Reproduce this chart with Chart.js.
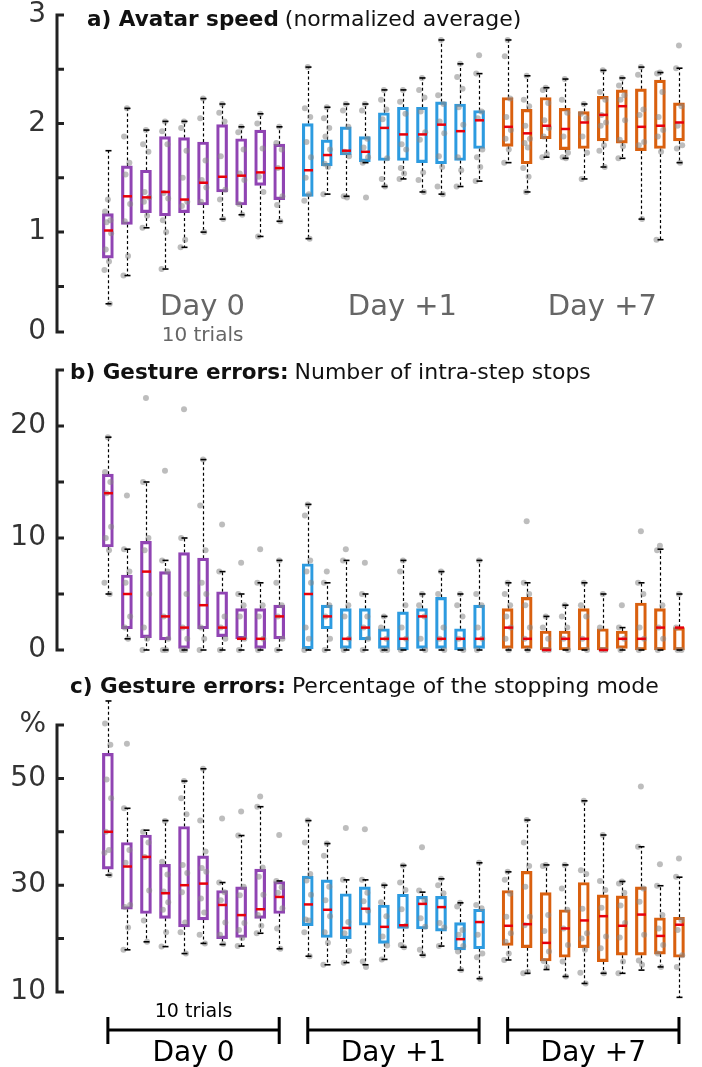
<!DOCTYPE html>
<html>
<head>
<meta charset="utf-8">
<script src="https://cdn.jsdelivr.net/npm/chart.js@4"></script>
<style>
  body { margin: 0; background: #fff; }
  #wrap { position: relative; width: 702px; height: 1067px; overflow: hidden; }
  canvas { position: absolute; left: 0; }
</style>
</head>
<body>
<div id="wrap">
  <canvas id="chartA" width="702" height="350" style="top:0px"></canvas>
  <canvas id="chartB" width="702" height="315" style="top:350px"></canvas>
  <canvas id="chartC" width="702" height="402" style="top:665px"></canvas>
</div>
<script>
// groups on the x axis
var days = ['Day 0', 'Day +1', 'Day +7'];
var trialsLabel = '10 trials';
var dayColors = ['#9044b3', '#2d9be0', '#d9600f'];

// a) Avatar speed (normalized average) - 10 trials per day
var speedMax = [1.75, 2.14, 1.94, 2.02, 2.02, 2.23, 2.18, 1.97, 2.09, 1.97,
                2.52, 2.15, 2.18, 2.18, 2.31, 2.31, 2.42, 2.77, 2.55, 2.46,
                2.77, 2.44, 2.33, 2.41, 2.18, 2.49, 2.42, 2.52, 2.47, 2.51];
var speedQ3  = [1.17, 1.61, 1.57, 1.88, 1.87, 1.83, 1.99, 1.86, 1.94, 1.81,
                2.00, 1.85, 1.97, 1.88, 2.10, 2.15, 2.15, 2.20, 2.18, 2.12,
                2.24, 2.13, 2.24, 2.14, 2.11, 2.25, 2.31, 2.32, 2.40, 2.19];
var speedMed = [1.015, 1.33, 1.32, 1.37, 1.30, 1.455, 1.51, 1.52, 1.55, 1.59,
                1.57, 1.71, 1.75, 1.74, 1.96, 1.90, 1.90, 1.99, 1.93, 2.03,
                1.97, 1.91, 1.98, 1.95, 2.01, 2.08, 2.16, 1.97, 1.98, 2.01];
var speedQ1  = [0.76, 1.07, 1.18, 1.15, 1.18, 1.25, 1.37, 1.25, 1.43, 1.30,
                1.33, 1.61, 1.71, 1.65, 1.66, 1.66, 1.64, 1.63, 1.66, 1.77,
                1.79, 1.63, 1.86, 1.76, 1.77, 1.84, 1.82, 1.75, 1.77, 1.84];
var speedMin = [0.34, 0.60, 1.04, 0.66, 0.86, 1.00, 1.12, 1.16, 0.96, 1.10,
                0.94, 1.35, 1.33, 1.64, 1.42, 1.49, 1.37, 1.35, 1.42, 1.47,
                1.64, 1.37, 1.69, 1.68, 1.49, 1.60, 1.68, 1.12, 0.93, 1.64];
var speedPts = [
  [1.30, 1.19, 1.11, 1.09, 0.99, 0.84, 0.73, 0.65, 0.34],
  [2.14, 1.88, 1.64, 1.53, 1.26, 1.10, 0.78, 0.60],
  [1.94, 1.81, 1.74, 1.37, 1.32, 1.28, 1.15, 1.04],
  [2.02, 1.93, 1.81, 1.36, 1.31, 1.11, 1.00, 0.66],
  [2.02, 1.96, 1.75, 1.50, 1.28, 1.24, 0.93, 0.86],
  [2.23, 2.05, 1.66, 1.48, 1.41, 1.28, 1.00],
  [2.18, 2.10, 2.02, 1.70, 1.39, 1.30, 1.12],
  [1.97, 1.92, 1.76, 1.54, 1.48, 1.26, 1.16],
  [2.09, 2.00, 1.77, 1.51, 1.37, 0.96],
  [1.97, 1.82, 1.76, 1.59, 1.33, 1.25, 1.10],
  [2.52, 2.14, 2.06, 1.83, 1.69, 1.50, 1.35, 1.29, 0.94],
  [2.15, 2.05, 1.96, 1.88, 1.76, 1.63, 1.60, 1.35],
  [2.18, 2.12, 1.97, 1.74, 1.70, 1.33, 1.32],
  [2.18, 2.12, 1.86, 1.78, 1.69, 1.64, 1.32],
  [2.31, 2.22, 2.13, 2.04, 1.68, 1.49, 1.42],
  [2.31, 2.20, 2.09, 1.81, 1.76, 1.59, 1.54, 1.49],
  [2.42, 2.31, 2.24, 2.11, 1.92, 1.85, 1.55, 1.48, 1.37],
  [2.77, 2.26, 2.18, 2.02, 1.91, 1.70, 1.60, 1.42, 1.35],
  [2.55, 2.43, 2.32, 2.15, 1.99, 1.69, 1.57, 1.42],
  [2.63, 2.46, 2.11, 2.05, 1.76, 1.69, 1.60, 1.47],
  [2.77, 2.62, 2.23, 2.06, 1.94, 1.86, 1.76, 1.64],
  [2.44, 2.22, 2.16, 1.98, 1.86, 1.82, 1.78, 1.59, 1.51, 1.37],
  [2.33, 2.31, 2.19, 2.03, 1.96, 1.88, 1.72, 1.69],
  [2.41, 2.22, 2.10, 1.88, 1.73, 1.69, 1.68],
  [2.18, 2.09, 2.05, 1.88, 1.73, 1.49],
  [2.49, 2.29, 2.22, 2.08, 2.01, 1.98, 1.80, 1.75, 1.60],
  [2.42, 2.35, 2.26, 2.22, 2.03, 1.85, 1.79, 1.68],
  [2.52, 2.45, 2.13, 2.08, 1.83, 1.80, 1.12],
  [2.47, 2.46, 2.29, 2.06, 1.94, 1.88, 1.74, 0.93],
  [2.72, 2.51, 2.16, 1.98, 1.80, 1.77, 1.64]
];
var speedTicks = [0.08, 0.5, 1, 1.5, 2, 2.5, 3];
var speedTickLabels = ['0', '', '1', '', '2', '', '3'];

// b) Gesture errors: number of intra-step stops
var stopsMax = [19, 9, 15, 8, 10, 17, 7, 5, 6, 8,
                13, 6, 8, 5, 3, 8, 5, 7, 5, 8,
                6, 6, 3, 4, 6, 5, 2, 6, 9, 5];
var stopsQ3  = [15.7, 6.7, 9.7, 7.0, 8.7, 8.2, 5.2, 3.7, 3.7, 4.0,
                7.7, 4.0, 3.7, 3.7, 1.9, 3.4, 3.7, 4.7, 1.9, 4.0,
                3.7, 4.7, 1.7, 1.7, 3.7, 1.9, 1.7, 4.2, 3.7, 2.0];
var stopsMed = [14, 5, 7, 3, 2, 4, 2, 1, 1, 3,
                5, 3, 1, 2, 1, 1, 3, 1, 1, 1,
                2, 1, 0, 1, 1, 0, 1, 1, 2, 2];
var stopsQ1  = [9.2, 1.9, 1.1, 0.9, 0.15, 1.9, 1.2, 1.0, 0.15, 1.0,
                0.1, 1.9, 0.15, 0.9, 0.15, 0, 0.15, 0.15, 0, 0.15,
                0.15, 0.15, 0, 0, 0, 0, 0.15, 0, 0, 0];
var stopsMin = [5, 1, 0, 0, 0, 0, 0, 0, 0, 0,
                0, 0, 0, 0, 0, 0, 0, 0, 0, 0,
                0, 0, 0, 0, 0, 0, 0, 0, 0, 0];
var stopsPts = [
  [19, 15.9, 15, 14, 11, 10, 8.9, 6, 5],
  [13.8, 9, 7, 6, 3, 2, 1],
  [22.5, 15, 10, 8.9, 5, 2, 1, 0],
  [16, 8, 7, 3, 1, 0, 0],
  [21.5, 10, 5, 2, 1, 0, 0],
  [17, 12.9, 8.9, 6, 5, 2, 1, 0],
  [11.2, 7, 3, 2, 1, 0],
  [7.8, 5, 4, 3, 1, 0],
  [9, 6, 4, 3, 1, 0],
  [8, 6, 4, 3, 1, 0],
  [13, 12, 8, 7, 6, 2, 1, 0],
  [7, 6, 4, 3, 1, 0],
  [9, 8, 4, 3, 1, 0],
  [7.8, 5, 3, 2, 1, 0],
  [3, 2, 1, 0, 0],
  [8, 7, 4, 2, 1, 0],
  [5, 4, 3, 1, 0],
  [7, 5, 2, 1, 0],
  [5, 4, 3, 1, 0],
  [8, 5, 4, 2, 1, 0],
  [6, 5, 4, 3, 2, 1, 0],
  [11.5, 6, 5, 4, 2, 1, 0],
  [3, 2, 1, 0, 0],
  [4, 3, 2, 1, 0],
  [6, 4, 3, 1, 0],
  [5, 2, 0, 0],
  [4, 2, 1, 0],
  [10.6, 6, 5, 2, 1, 0],
  [9.3, 8.9, 4, 2, 1, 0],
  [5, 2, 0, 0]
];
var stopsTicks = [0, 5, 10, 15, 20, 25];
var stopsTickLabels = ['0', '', '10', '', '20', ''];

// c) Gesture errors: percentage of the stopping mode
var modeMax = [64.5, 44.4, 40.3, 42.1, 49.5, 51.8, 30.5, 39.3, 44.7, 30.8,
               42.1, 37.8, 31.0, 31.0, 30.0, 33.7, 28.7, 31.2, 26.7, 34.2,
               32.5, 42.2, 33.8, 33.8, 45.8, 39.4, 30.7, 37.2, 29.9, 31.5];
var modeQ3  = [54.7, 38.0, 39.4, 33.9, 41.0, 35.5, 29.0, 29.7, 33.0, 30.7,
               31.7, 31.0, 28.4, 29.7, 26.3, 28.3, 27.9, 27.9, 23.0, 25.5,
               29.0, 32.6, 28.6, 25.4, 30.5, 28.2, 28.0, 29.7, 23.9, 24.0];
var modeMed = [40.0, 33.5, 35.3, 28.5, 30.0, 30.3, 26.3, 24.4, 25.5, 27.8,
               26.4, 25.4, 22.0, 25.6, 22.2, 22.5, 26.5, 25.9, 19.9, 23.1,
               22.4, 22.7, 19.2, 21.9, 23.4, 24.2, 22.4, 24.5, 20.5, 22.6];
var modeQ1  = [33.0, 25.5, 24.7, 23.8, 22.2, 23.5, 20.0, 20.2, 23.8, 24.7,
               22.4, 20.2, 20.0, 22.5, 19.1, 21.9, 21.8, 21.4, 17.9, 18.1,
               18.7, 18.3, 15.8, 16.5, 18.3, 15.7, 16.9, 16.9, 17.1, 16.5];
var modeMin = [31.9, 17.9, 19.4, 18.5, 17.2, 19.1, 18.9, 18.6, 21.0, 18.1,
               16.7, 15.1, 15.5, 15.1, 16.1, 18.4, 16.9, 18.6, 14.1, 12.5,
               16.0, 13.5, 14.2, 12.9, 11.6, 13.5, 13.5, 14.1, 14.7, 9.0];
var modePts = [
  [64.5, 60.3, 56.3, 49.8, 46.3, 40, 36.6, 36.1, 31.9],
  [56.5, 44.4, 36.6, 34.2, 26.3, 25.9, 22.1, 17.9],
  [61.2, 40, 38, 35.3, 29, 23.4, 19.4],
  [42, 34.4, 32, 28.8, 26.8, 25.4, 21.2, 18.5],
  [49.5, 46.3, 43.3, 33.8, 32.3, 28.7, 23, 21.2, 17.2],
  [51.8, 42.1, 36.3, 33.2, 32.5, 27.5, 24.9, 20.7, 19.1],
  [42.5, 30.5, 28.7, 27.2, 23, 20.7, 19],
  [43.8, 39.3, 29.7, 28.1, 22.9, 21.6, 20.1, 18.6],
  [46.6, 44.7, 33.3, 31.6, 28.2, 24.4, 22.4, 21],
  [39.4, 30.8, 29.6, 28.6, 25.7, 21.9, 18.1],
  [42.1, 38, 32.1, 30.9, 28.2, 23.6, 23.4, 21.2, 16.7],
  [37.8, 35.5, 29.7, 27.2, 24.2, 21.2, 19.2, 15.1],
  [40.7, 31, 23.1, 21, 17.7, 15.5],
  [40.5, 31, 28.6, 27, 25.2, 15.7, 14.7],
  [30, 26.8, 24.2, 20.4, 18.7, 16.1],
  [33.7, 30.5, 29.1, 25.5, 22.4, 18.8, 18.4],
  [37.1, 29, 27.2, 23.8, 22.2, 17.9, 16.9],
  [31.2, 30, 28.5, 22.9, 22.1, 18.6],
  [26.7, 26, 21.6, 20.7, 18.6, 17.6, 14.1],
  [34.2, 26.3, 25.7, 20.7, 17.2, 16.5, 12.5],
  [32.5, 31, 28.4, 24.1, 21, 19.4, 17.2, 16],
  [42.2, 38, 33.6, 29.7, 24.1, 22.5, 13.8, 13.5],
  [33.8, 33.6, 24.4, 21.4, 17.6, 15.8, 14.7],
  [33.8, 29.4, 25.4, 21.9, 18.8, 15.7, 12.9],
  [45.8, 32.8, 32.1, 25.6, 21, 20, 17.9, 13.6, 11.6],
  [39.4, 30.8, 29.1, 25.8, 20.4, 18.2, 13.5],
  [30.7, 30.3, 28.6, 26.2, 22.9, 20.2, 15.7, 13.5],
  [48.5, 37.2, 29.4, 26.9, 20.7, 15.9, 15.1],
  [33.9, 29.9, 24.4, 21.9, 18.8, 17.2, 14.7],
  [35, 31.6, 23.5, 21.6, 16.9, 14.7, 9]
];
var modeTicks = [10, 20, 30, 40, 50, 60];
var modeTickLabels = ['10', '', '30', '', '50', '%'];

Chart.defaults.font.family = '"DejaVu Sans", Verdana, sans-serif';

// x position of every box: 10 trials per day, a 1.5 gap between days
var positions = [];
for (var i = 0; i < days.length * 10; i++) {
  positions.push(Math.floor(i / 10) * 10.5 + (i % 10));
}
var jitter = [0, -0.15, 0.13, -0.07, 0.17, -0.11, 0.06, -0.18, 0.1, -0.03];

function colorOf(i) { return dayColors[Math.floor(i / 10)]; }

function makeExtras(s, info) {
  return {
    id: 'boxExtras',
    beforeDatasetsDraw: function (chart) {
      var ctx = chart.ctx, x = chart.scales.x, y = chart.scales.y;
      ctx.save();
      ctx.strokeStyle = '#000';
      ctx.lineWidth = 1.2;
      ctx.setLineDash([3, 2.5]);
      for (var i = 0; i < s.med.length; i++) {
        var px = Math.round(x.getPixelForValue(positions[i])) + 0.5;
        ctx.beginPath();
        ctx.moveTo(px, y.getPixelForValue(s.q3[i]));
        ctx.lineTo(px, y.getPixelForValue(s.max[i]));
        ctx.moveTo(px, y.getPixelForValue(s.q1[i]));
        ctx.lineTo(px, y.getPixelForValue(s.min[i]));
        ctx.stroke();
      }
      ctx.restore();
    },
    afterDatasetsDraw: function (chart) {
      var ctx = chart.ctx, x = chart.scales.x, y = chart.scales.y;
      ctx.save();
      for (var i = 0; i < s.med.length; i++) {
        var px = Math.round(x.getPixelForValue(positions[i])) + 0.5;
        // whisker caps
        ctx.strokeStyle = '#000';
        ctx.lineWidth = 1.6;
        [s.max[i], s.min[i]].forEach(function (v) {
          var py = y.getPixelForValue(v);
          ctx.beginPath();
          ctx.moveTo(px - 3, py);
          ctx.lineTo(px + 3, py);
          ctx.stroke();
        });
        // median
        var pm = y.getPixelForValue(s.med[i]);
        ctx.strokeStyle = '#e8000b';
        ctx.lineWidth = 2.5;
        ctx.beginPath();
        ctx.moveTo(px - 4.5, pm);
        ctx.lineTo(px + 4.5, pm);
        ctx.stroke();
      }
      ctx.restore();
    },
    afterDraw: function (chart) {
      var ctx = chart.ctx, area = chart.chartArea, y = chart.scales.y;
      ctx.save();
      // y axis line with inward ticks
      ctx.strokeStyle = '#222';
      ctx.lineWidth = 3;
      ctx.beginPath();
      ctx.moveTo(area.left - 1, area.top);
      ctx.lineTo(area.left - 1, area.bottom);
      y.ticks.forEach(function (t) {
        var py = y.getPixelForValue(t.value);
        ctx.moveTo(area.left - 2.5, py);
        ctx.lineTo(area.left + 6, py);
      });
      ctx.stroke();
      // title: bold part + normal part
      ctx.fillStyle = '#111';
      ctx.textBaseline = 'alphabetic';
      ctx.textAlign = 'left';
      ctx.font = 'bold 21.5px "DejaVu Sans"';
      ctx.fillText(info.titleBold, info.titleX, info.titleY);
      var w = ctx.measureText(info.titleBold).width + 6;
      ctx.font = '22px "DejaVu Sans"';
      ctx.fillText(info.titleRest, info.titleX + w, info.titleY);
      if (info.notes) info.notes(chart, ctx);
      ctx.restore();
    }
  };
}

function dayCenter(chart, d) {
  var x = chart.scales.x;
  return (x.getPixelForValue(positions[d * 10]) + x.getPixelForValue(positions[d * 10 + 9])) / 2;
}

function buildChart(id, s, info) {
  var boxes = [], pts = [];
  for (var i = 0; i < s.med.length; i++) {
    boxes.push({ x: positions[i], y: [s.q1[i], s.q3[i]] });
    for (var j = 0; j < s.pts[i].length; j++) {
      pts.push({ x: positions[i] + jitter[j % jitter.length], y: s.pts[i][j] });
    }
  }
  return new Chart(document.getElementById(id), {
    type: 'scatter',
    data: {
      datasets: [{
        type: 'scatter',
        data: pts,
        order: 1,
        clip: false,
        pointRadius: 3,
        pointBorderWidth: 0,
        pointBackgroundColor: 'rgba(135,135,135,0.55)'
      }, {
        type: 'bar',
        data: boxes,
        order: 2,
        clip: false,
        barThickness: 11,
        backgroundColor: 'rgba(0,0,0,0)',
        borderColor: s.med.map(function (v, i) { return colorOf(i); }),
        borderWidth: 2.5,
        borderSkipped: false
      }]
    },
    options: {
      responsive: false,
      animation: false,
      events: [],
      layout: { padding: info.padding },
      plugins: { legend: { display: false }, tooltip: { enabled: false } },
      scales: {
        x: { type: 'linear', min: -2.62, max: 31, offset: false, display: false },
        y: {
          type: 'linear',
          min: info.ticks[0],
          max: info.ticks[info.ticks.length - 1],
          afterFit: function (scale) {
            scale.width = 58;
            scale.paddingTop = 0;
            scale.paddingBottom = 0;
          },
          afterBuildTicks: function (axis) {
            axis.ticks = info.ticks.map(function (v) { return { value: v }; });
          },
          grid: { display: false, drawTicks: false },
          border: { display: false },
          ticks: {
            padding: 12,
            color: '#333',
            font: { size: 28 },
            callback: function (value, index) { return info.tickLabels[index]; }
          }
        }
      }
    },
    plugins: [makeExtras(s, info)]
  });
}

buildChart('chartA',
  { max: speedMax, q3: speedQ3, med: speedMed, q1: speedQ1, min: speedMin, pts: speedPts },
  {
    ticks: speedTicks, tickLabels: speedTickLabels,
    padding: { top: 15, bottom: 18, left: 0, right: 2 },
    titleBold: 'a) Avatar speed', titleRest: '(normalized average)', titleX: 87, titleY: 26,
    notes: function (chart, ctx) {
      ctx.fillStyle = '#666';
      ctx.textAlign = 'center';
      ctx.font = '29px "DejaVu Sans"';
      days.forEach(function (d, k) { ctx.fillText(d, dayCenter(chart, k) + 9, 315); });
      ctx.font = '20px "DejaVu Sans"';
      ctx.fillText(trialsLabel, dayCenter(chart, 0) + 9, 341);
    }
  });

buildChart('chartB',
  { max: stopsMax, q3: stopsQ3, med: stopsMed, q1: stopsQ1, min: stopsMin, pts: stopsPts },
  {
    ticks: stopsTicks, tickLabels: stopsTickLabels,
    padding: { top: 20, bottom: 15, left: 0, right: 2 },
    titleBold: 'b) Gesture errors:', titleRest: 'Number of intra-step stops', titleX: 70, titleY: 29
  });

buildChart('chartC',
  { max: modeMax, q3: modeQ3, med: modeMed, q1: modeQ1, min: modeMin, pts: modePts },
  {
    ticks: modeTicks, tickLabels: modeTickLabels,
    padding: { top: 60, bottom: 75, left: 0, right: 2 },
    titleBold: 'c) Gesture errors:', titleRest: 'Percentage of the stopping mode', titleX: 70, titleY: 28,
    notes: function (chart, ctx) {
      var x = chart.scales.x;
      ctx.strokeStyle = '#000';
      ctx.fillStyle = '#000';
      ctx.lineWidth = 3;
      ctx.textAlign = 'center';
      days.forEach(function (d, k) {
        var x1 = x.getPixelForValue(positions[k * 10]);
        var x2 = x.getPixelForValue(positions[k * 10 + 9]);
        ctx.beginPath();
        ctx.moveTo(x1, 365); ctx.lineTo(x2, 365);
        ctx.moveTo(x1, 352); ctx.lineTo(x1, 379);
        ctx.moveTo(x2, 352); ctx.lineTo(x2, 379);
        ctx.stroke();
        ctx.font = '28px "DejaVu Sans"';
        ctx.fillText(d, (x1 + x2) / 2, 396);
      });
      ctx.font = '19px "DejaVu Sans"';
      ctx.fillText(trialsLabel, dayCenter(chart, 0), 352);
    }
  });
</script>
</body>
</html>
